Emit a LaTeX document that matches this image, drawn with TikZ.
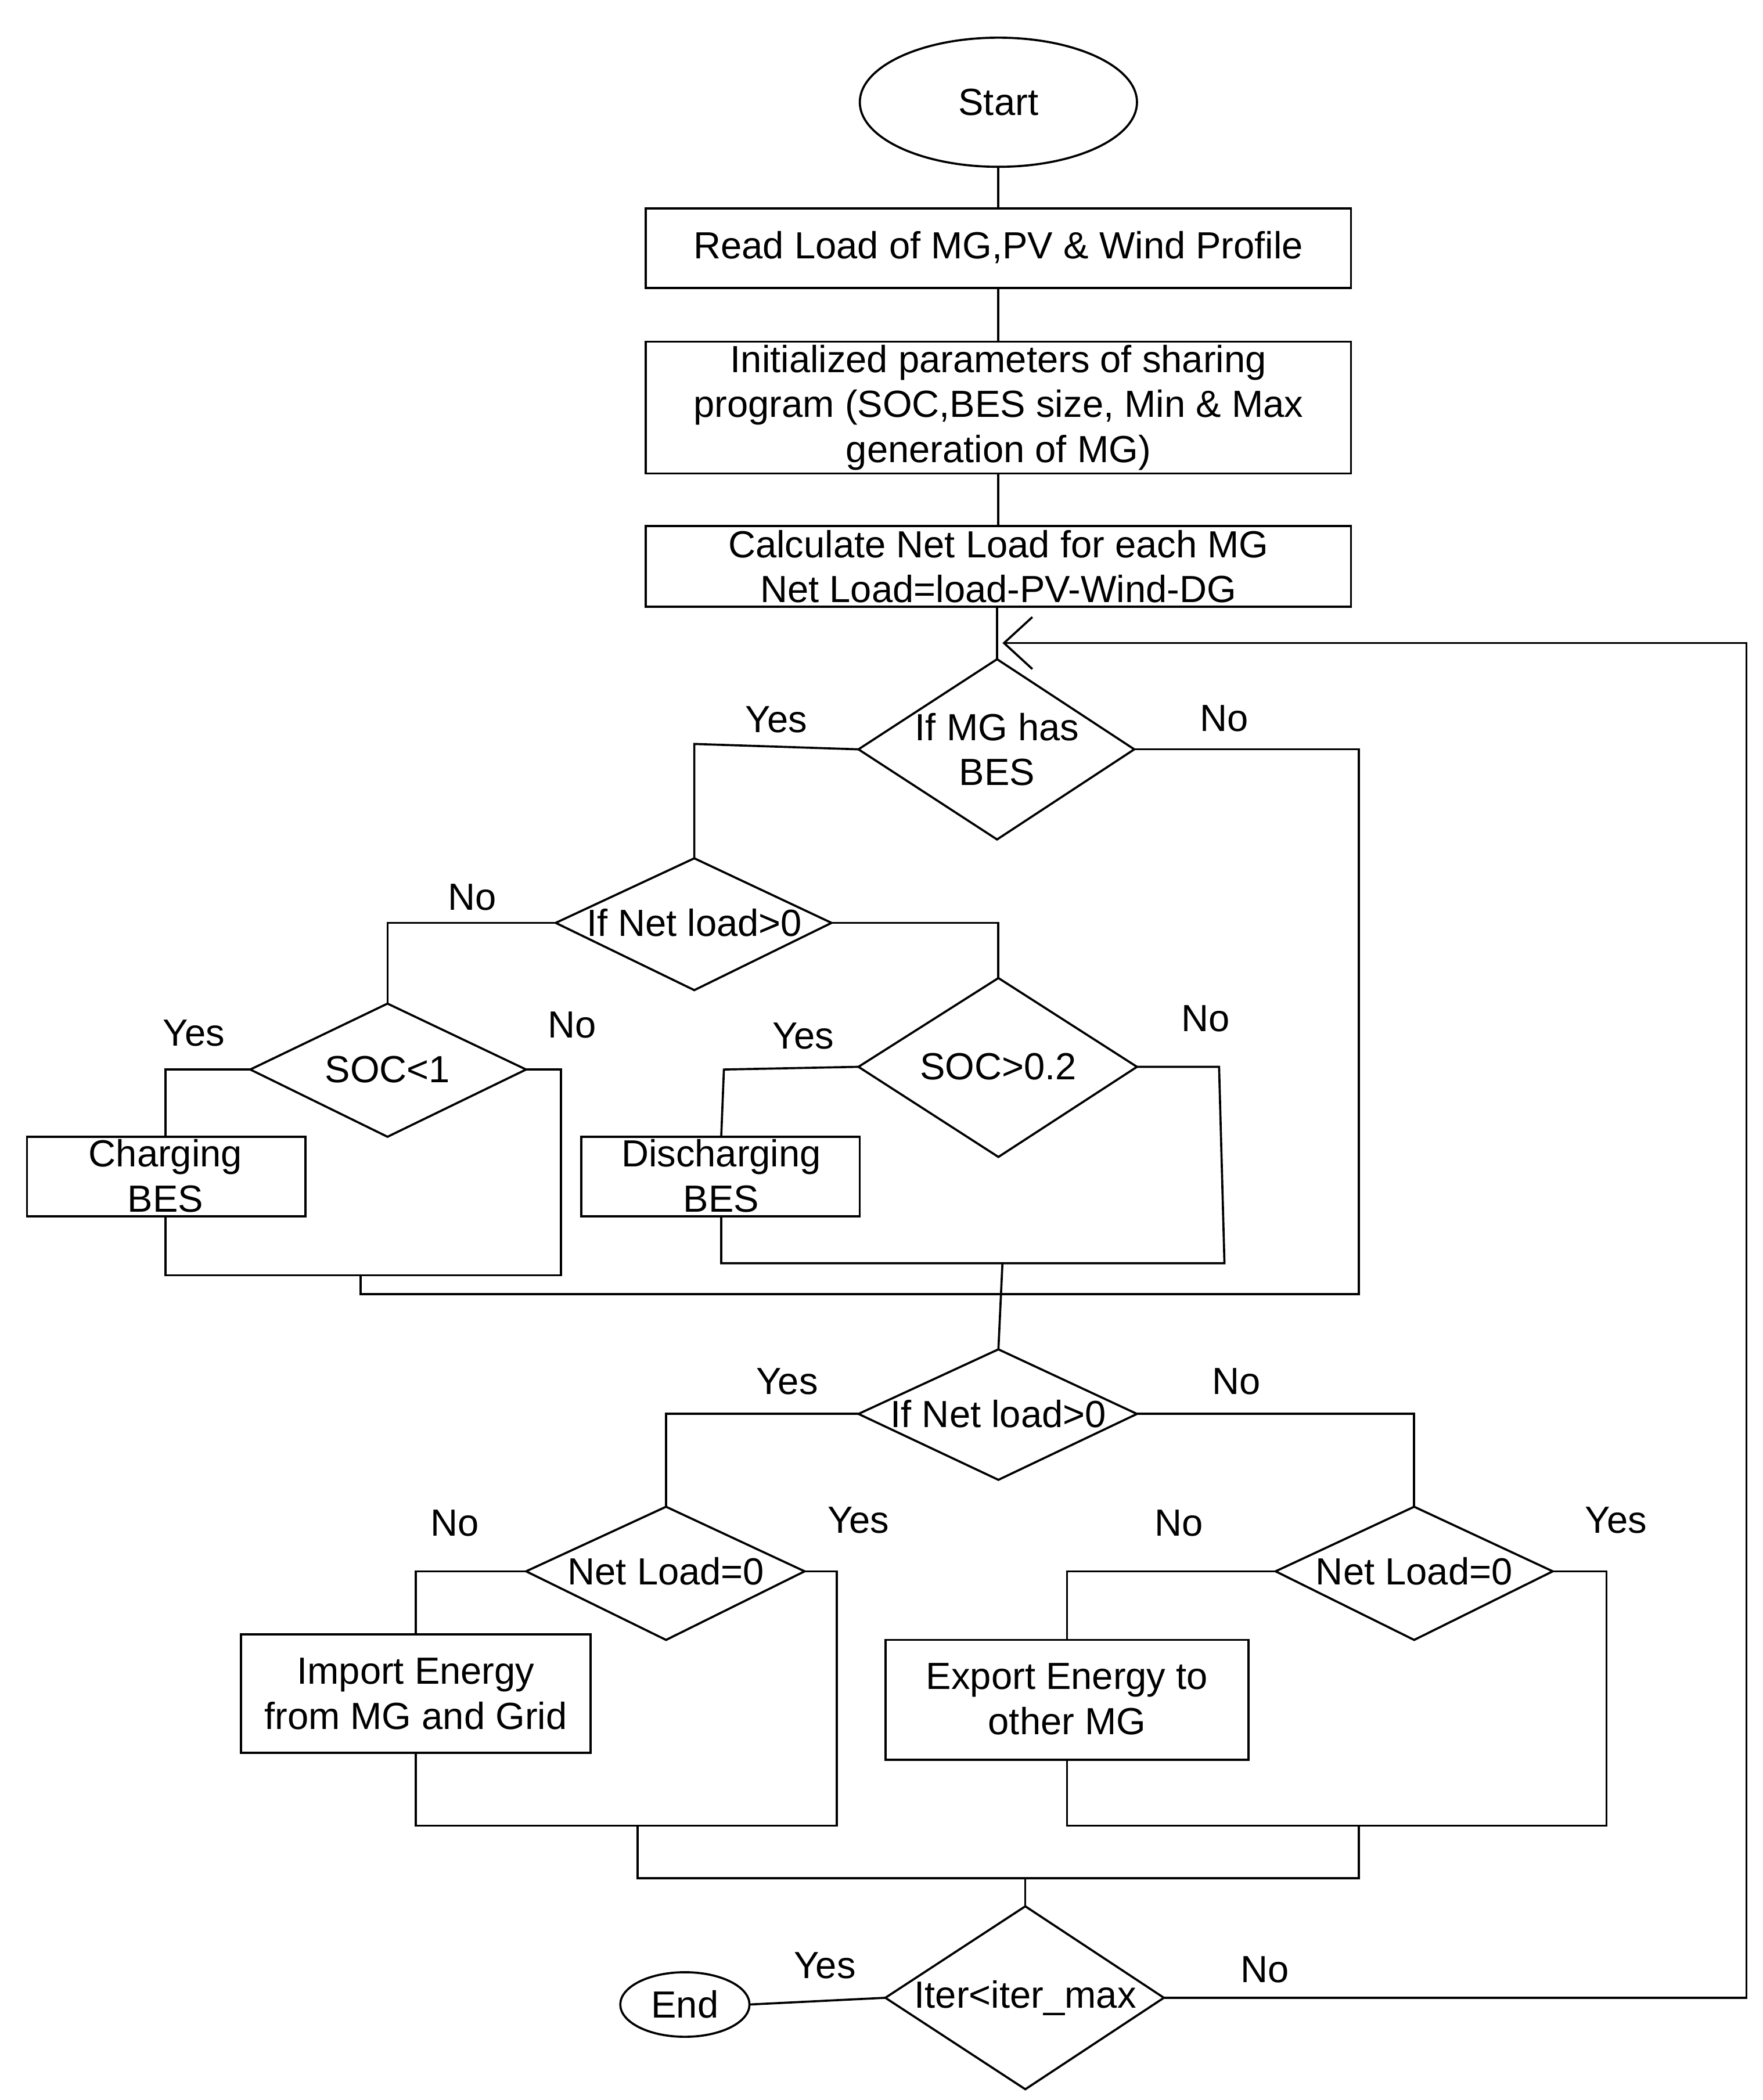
\documentclass[tikz,border=0pt]{standalone}
\usepackage{fontspec}
\setmainfont{Liberation Sans}
\usetikzlibrary{arrows.meta}
\begin{document}
\begin{tikzpicture}[x=0.02cm,y=-0.02cm,line width=0.9pt,
  txt/.style={font=\fontsize{16}{19}\selectfont,align=center,inner sep=0},
  lbl/.style={font=\fontsize{16}{19}\selectfont,inner sep=0},
  box/.style={draw,rectangle}]
\useasboundingbox (0,0) rectangle (1310,1561);
% start / boxes
\draw (742,76) ellipse [x radius=103,y radius=48];
\node[txt] (start) at (742,76) {Start};
\draw (480,155) rectangle (1004,214);
\node[txt] (b1) at (742,184) {Read Load of MG,PV \& Wind Profile};
\draw (480,254) rectangle (1004,352);
\node[txt] (b2) at (742,303) {Initialized parameters of sharing\\program (SOC,BES size, Min \& Max\\generation of MG)};
\draw (480,391) rectangle (1004,451);
\node[txt] (b3) at (742,421) {Calculate Net Load for each MG\\Net Load=load-PV-Wind-DG};
\draw (742,124)--(742,155) (742,214)--(742,254) (742,352)--(742,391) (741,451)--(741,490);
% diamonds
\newcommand{\dia}[5]{\draw (#2,#4)--(#3,#1)--(#2+#2-#4*0+0,#4)--cycle;}
\draw (638,557)--(741,490)--(843,557)--(741,624)--cycle;
\node[txt] (d1) at (741,557) {If MG has\\BES};
\draw (413,686)--(516,638)--(618,686)--(516,736)--cycle;
\node[txt] (d2) at (516,686) {If Net load>0};
\draw (186,795)--(288,746)--(391,795)--(288,845)--cycle;
\node[txt] (d3) at (288,795) {SOC<1};
\draw (638,793)--(742,727)--(845,793)--(742,860)--cycle;
\node[txt] (d4) at (742,793) {SOC>0.2};
\draw (638,1051)--(742,1003)--(845,1051)--(742,1100)--cycle;
\node[txt] (d5) at (742,1051) {If Net load>0};
\draw (391,1168)--(495,1120)--(598,1168)--(495,1219)--cycle;
\node[txt] (d6) at (495,1168) {Net Load=0};
\draw (948,1168)--(1051,1120)--(1154,1168)--(1051,1219)--cycle;
\node[txt] (d7) at (1051,1168) {Net Load=0};
\draw (658,1485)--(762,1417)--(865,1485)--(762,1553)--cycle;
\node[txt] (d8) at (762,1485) {Iter<iter\_max};
% boxes lower
\draw (20,845) rectangle (227,904);
\node[txt] (chg) at (123,874) {Charging\\BES};
\draw (432,845) rectangle (639,904);
\node[txt] (dis) at (536,874) {Discharging\\BES};
\draw (179,1215) rectangle (439,1303);
\node[txt] (imp) at (309,1259) {Import Energy\\from MG and Grid};
\draw (658,1219) rectangle (928,1308);
\node[txt] (exp) at (793,1263) {Export Energy to\\other MG};
\draw (509,1490) ellipse [x radius=48,y radius=24];
\node[txt] (end) at (509,1490) {End};
% connectors
\draw (638,557)--(516,553)--(516,638);
\draw (843,557)--(1010,557)--(1010,962)--(268,962)--(268,948);
\draw (413,686)--(288,686)--(288,746);
\draw (618,686)--(742,686)--(742,727);
\draw (186,795)--(123,795)--(123,845);
\draw (391,795)--(417,795)--(417,948)--(123,948)--(123,904);
\draw (638,793)--(538,795)--(536,845);
\draw (845,793)--(906,793)--(910,939)--(536,939)--(536,904);
\draw (745,939)--(742,1003);
\draw (638,1051)--(495,1051)--(495,1120);
\draw (845,1051)--(1051,1051)--(1051,1120);
\draw (391,1168)--(309,1168)--(309,1215);
\draw (598,1168)--(622,1168)--(622,1357)--(309,1357)--(309,1303);
\draw (948,1168)--(793,1168)--(793,1219);
\draw (1154,1168)--(1194,1168)--(1194,1357)--(793,1357)--(793,1308);
\draw (474,1357)--(474,1396)--(1010,1396)--(1010,1357);
\draw (762,1396)--(762,1417);
\draw (658,1485)--(557,1490);
\draw[-{Straight Barb[length=12pt,width=22pt]}] (865,1485)--(1298,1485)--(1298,478)--(745,478);
% labels
\node[lbl] at (577,535) {Yes};
\node[lbl] at (910,534) {No};
\node[lbl] at (351,667) {No};
\node[lbl] at (144,768) {Yes};
\node[lbl] at (425,762) {No};
\node[lbl] at (597,770) {Yes};
\node[lbl] at (896,757) {No};
\node[lbl] at (585,1027) {Yes};
\node[lbl] at (919,1027) {No};
\node[lbl] at (338,1132) {No};
\node[lbl] at (638,1130) {Yes};
\node[lbl] at (876,1132) {No};
\node[lbl] at (1201,1130) {Yes};
\node[lbl] at (613,1461) {Yes};
\node[lbl] at (940,1464) {No};
\end{tikzpicture}
\end{document}
